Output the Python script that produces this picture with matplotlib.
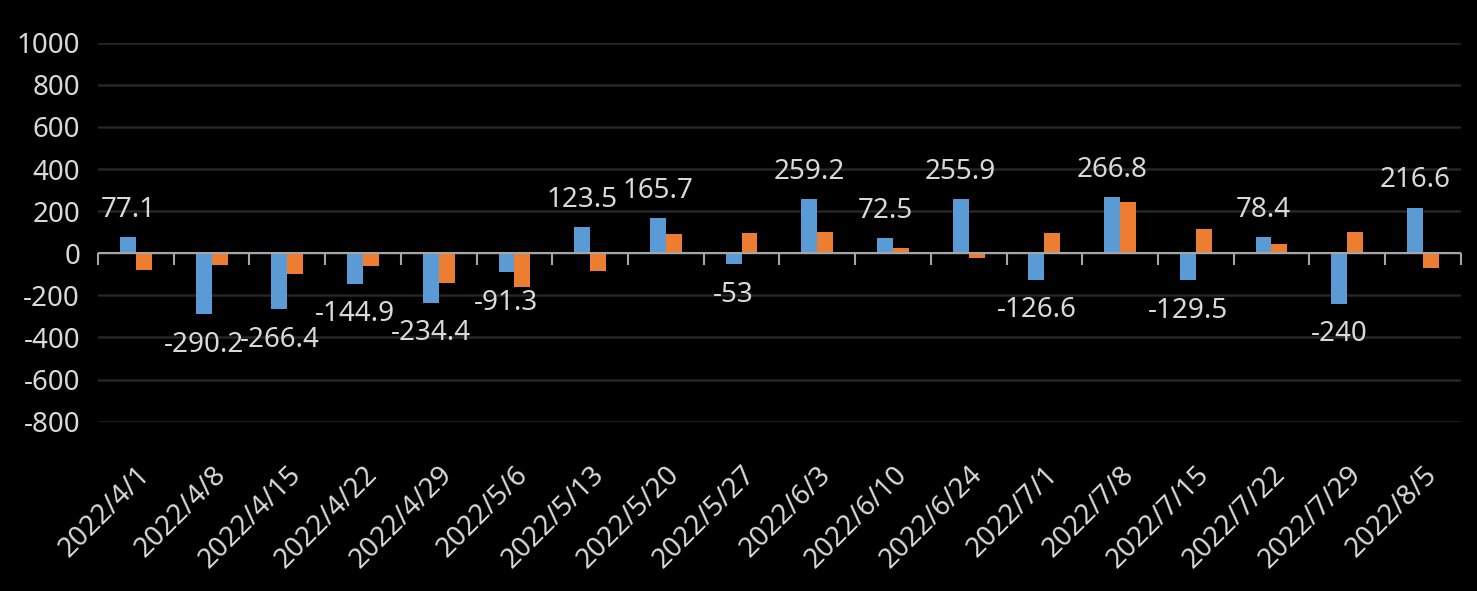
import numpy as np
import matplotlib.pyplot as plt

plt.rcParams['font.family'] = ['Noto Sans', 'DejaVu Sans']

# 資料
dates = ['2022/4/1', '2022/4/8', '2022/4/15', '2022/4/22', '2022/4/29', '2022/5/6',
         '2022/5/13', '2022/5/20', '2022/5/27', '2022/6/3', '2022/6/10', '2022/6/24',
         '2022/7/1', '2022/7/8', '2022/7/15', '2022/7/22', '2022/7/29', '2022/8/5']
blue_vals = [77.1, -290.2, -266.4, -144.9, -234.4, -91.3,
             123.5, 165.7, -53, 259.2, 72.5, 255.9,
             -126.6, 266.8, -129.5, 78.4, -240, 216.6]
orange_vals = [-80, -54, -97, -59, -140, -159,
               -83, 89, 98, 103, 27, -25,
               98, 241, 113, 46, 103, -68]
yticks = [-800, -600, -400, -200, 0, 200, 400, 600, 800, 1000]

text_color = '#D9D9D9'
n = len(dates)
x = np.arange(n)
w = 0.21

fig = plt.figure(figsize=(14.77, 5.91), dpi=100, facecolor='black')
ax = fig.add_axes([0.0664, 0.2865, 0.9226, 0.6413])
ax.set_facecolor('black')

ax.bar(x - w / 2, blue_vals, w, color='#5B9BD5', zorder=3)
ax.bar(x + w / 2, orange_vals, w, color='#ED7D31', zorder=3)

ax.set_xlim(-0.5, n - 0.5)
ax.set_ylim(-800, 1000)
ax.set_yticks(yticks)
ax.set_yticklabels([str(t) for t in yticks])
ax.grid(axis='y', color='#262626', linewidth=1.8, zorder=0)
ax.set_axisbelow(True)

# 零軸與分隔刻度
ax.axhline(0, color='#A6A6A6', linewidth=1.5, zorder=4)
ax.vlines(np.arange(n + 1) - 0.5, -57, 0, color='#A6A6A6', linewidth=1.5,
          zorder=4, clip_on=False)

for s in ax.spines.values():
    s.set_visible(False)

ax.tick_params(axis='y', length=0, pad=13, labelsize=20, labelcolor=text_color)
ax.set_xticks(x)
ax.set_xticklabels(dates, rotation=45, ha='right', rotation_mode='anchor')
ax.tick_params(axis='x', length=0, pad=28, labelsize=20, labelcolor=text_color)

# 數據標籤
for xi, v in zip(x, blue_vals):
    lab = f'{v:g}'
    if v >= 0:
        ax.annotate(lab, (xi - w / 2, v), xytext=(0, 14.5), textcoords='offset points',
                    ha='center', va='baseline', fontsize=20, color=text_color, zorder=5)
    else:
        ax.annotate(lab, (xi - w / 2, v), xytext=(0, -27), textcoords='offset points',
                    ha='center', va='baseline', fontsize=20, color=text_color, zorder=5)

fig.savefig('out.png', dpi=100, facecolor='black')
